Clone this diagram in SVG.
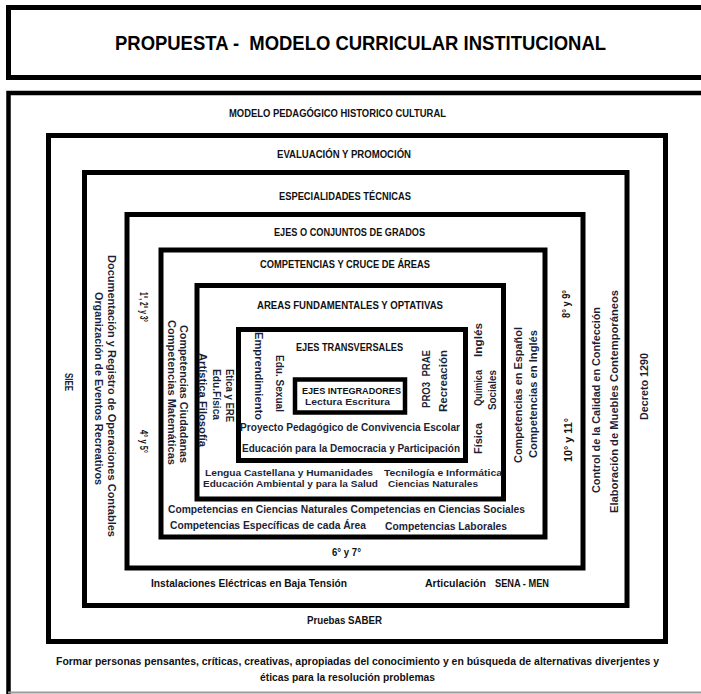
<svg xmlns="http://www.w3.org/2000/svg" width="701" height="694" viewBox="0 0 701 694">
<style>
.bx{fill:none;stroke:#000;stroke-width:5}
.hd{font-family:"Liberation Sans",Arial,sans-serif;font-weight:bold;font-size:10.5px;fill:#111}
.tx{font-family:"Liberation Sans",Arial,sans-serif;font-weight:bold;font-size:10.5px;fill:#1c1f38}
.sm{font-size:9.5px}
.ttl{font-family:"Liberation Sans",Arial,sans-serif;font-weight:bold;font-size:20px;fill:#000}
</style>
<rect width="701" height="694" fill="#fff"/>

<g id="title">
  <path class="bx" d="M705,7.5 H8.5 V77.5 H705"/>
  <text class="ttl" x="115" y="50" textLength="491" lengthAdjust="spacingAndGlyphs" xml:space="preserve">PROPUESTA -  MODELO CURRICULAR INSTITUCIONAL</text>
</g>

<g id="modelo-pedagogico">
  <path d="M8.5,694 V93 H705" fill="none" stroke="#000" stroke-width="4.5"/>
  <line x1="8" y1="692.5" x2="701" y2="692.5" stroke="#9a9a9a" stroke-width="2"/>
  <text class="hd" x="229" y="117" textLength="217" lengthAdjust="spacingAndGlyphs">MODELO PEDAGÓGICO HISTORICO CULTURAL</text>
  <text class="hd" x="56" y="665" textLength="603" lengthAdjust="spacingAndGlyphs">Formar personas pensantes, críticas, creativas, apropiadas del conocimiento  y en búsqueda de alternativas  diverjentes y</text>
  <text class="hd" x="260" y="681" textLength="175" lengthAdjust="spacingAndGlyphs">éticas para la resolución problemas</text>
</g>

<g id="evaluacion">
  <rect class="bx" x="48.5" y="135.5" width="617" height="506"/>
  <text class="hd" x="277" y="158" textLength="134" lengthAdjust="spacingAndGlyphs">EVALUACIÓN Y PROMOCIÓN</text>
  <text class="hd" x="307" y="624" textLength="75" lengthAdjust="spacingAndGlyphs">Pruebas SABER</text>
  <text class="tx" transform="translate(65,373) rotate(90)" textLength="18" lengthAdjust="spacingAndGlyphs">SIEE</text>
  <text class="tx" transform="translate(648,420) rotate(-90)" textLength="67" lengthAdjust="spacingAndGlyphs">Decreto 1290</text>
</g>

<g id="especialidades">
  <rect class="bx" x="84.5" y="172.5" width="542.5" height="433"/>
  <text class="hd" x="279" y="200" textLength="132" lengthAdjust="spacingAndGlyphs">ESPECIALIDADES TÉCNICAS</text>
  <text class="hd" x="151" y="587" textLength="196" lengthAdjust="spacingAndGlyphs">Instalaciones Eléctricas en Baja Tensión</text>
  <text class="hd" x="425" y="587" textLength="61" lengthAdjust="spacingAndGlyphs">Articulación</text>
  <text class="hd" x="495" y="587" textLength="54" lengthAdjust="spacingAndGlyphs">SENA - MEN</text>
  <text class="tx" transform="translate(108,255) rotate(90)" textLength="282" lengthAdjust="spacingAndGlyphs">Documentación y Registro de Operaciones Contables</text>
  <text class="tx" transform="translate(95,292) rotate(90)" textLength="193" lengthAdjust="spacingAndGlyphs">Organización de Eventos Recreativos</text>
  <text class="tx" transform="translate(600,493) rotate(-90)" textLength="186" lengthAdjust="spacingAndGlyphs">Control de la Calidad en Confección</text>
  <text class="tx" transform="translate(618,513) rotate(-90)" textLength="223" lengthAdjust="spacingAndGlyphs">Elaboración de Muebles Contemporáneos</text>
</g>

<g id="ejes-grados">
  <rect class="bx" x="127" y="214.5" width="456" height="353.5"/>
  <text class="hd" x="274" y="236" textLength="151" lengthAdjust="spacingAndGlyphs">EJES O CONJUNTOS DE GRADOS</text>
  <text class="hd" x="332" y="556" textLength="29" lengthAdjust="spacingAndGlyphs">6° y 7°</text>
  <text class="hd" transform="translate(140,292) rotate(90)" textLength="30" lengthAdjust="spacingAndGlyphs">1°, 2° y 3°</text>
  <text class="hd" transform="translate(140,430) rotate(90)" textLength="23" lengthAdjust="spacingAndGlyphs">4° y 5°</text>
  <text class="hd" transform="translate(570,318) rotate(-90)" textLength="28" lengthAdjust="spacingAndGlyphs">8° y 9°</text>
  <text class="hd" transform="translate(572,462) rotate(-90)" textLength="44" lengthAdjust="spacingAndGlyphs">10° y 11°</text>
</g>

<g id="competencias">
  <rect class="bx" x="161" y="250" width="384" height="287"/>
  <text class="hd" x="260" y="268" textLength="170" lengthAdjust="spacingAndGlyphs">COMPETENCIAS Y CRUCE DE ÁREAS</text>
  <text class="tx" x="168" y="513" textLength="357" lengthAdjust="spacingAndGlyphs">Competencias en Ciencias Naturales Competencias en Ciencias Sociales</text>
  <text class="tx" x="170" y="529" textLength="196" lengthAdjust="spacingAndGlyphs">Competencias Específicas de cada Área</text>
  <text class="tx" x="385" y="530" textLength="122" lengthAdjust="spacingAndGlyphs">Competencias Laborales</text>
  <text class="tx" transform="translate(180,325) rotate(90)" textLength="138" lengthAdjust="spacingAndGlyphs">Competencias Ciudadanas</text>
  <text class="tx" transform="translate(168,320) rotate(90)" textLength="145" lengthAdjust="spacingAndGlyphs">Competencias Matemáticas</text>
  <text class="tx" transform="translate(522,463) rotate(-90)" textLength="136" lengthAdjust="spacingAndGlyphs">Competencias en Español</text>
  <text class="tx" transform="translate(537,458) rotate(-90)" textLength="128" lengthAdjust="spacingAndGlyphs">Competencias en Inglés</text>
</g>

<g id="areas">
  <rect class="bx" x="197" y="285.5" width="306.5" height="213.5"/>
  <text class="hd" x="257" y="309" textLength="186" lengthAdjust="spacingAndGlyphs">AREAS FUNDAMENTALES Y OPTATIVAS</text>
  <text class="tx sm" x="205" y="475.5" textLength="168" lengthAdjust="spacingAndGlyphs">Lengua Castellana y Humanidades</text>
  <text class="tx sm" x="203" y="486.5" textLength="175" lengthAdjust="spacingAndGlyphs">Educación Ambiental y para la Salud</text>
  <text class="tx sm" x="384" y="475.5" textLength="118" lengthAdjust="spacingAndGlyphs">Tecnilogía e Informática</text>
  <text class="tx sm" x="388" y="486.5" textLength="90" lengthAdjust="spacingAndGlyphs">Ciencias Naturales</text>
  <text class="tx" transform="translate(199,353) rotate(90)" textLength="94" lengthAdjust="spacingAndGlyphs">Artística Filosofía</text>
  <text class="tx" transform="translate(213,369) rotate(90)" textLength="51" lengthAdjust="spacingAndGlyphs">Edu.Física</text>
  <text class="tx" transform="translate(226,369) rotate(90)" textLength="53" lengthAdjust="spacingAndGlyphs">Etica y ERE</text>
  <text class="tx" transform="translate(482,357) rotate(-90)" textLength="34" lengthAdjust="spacingAndGlyphs">Inglés</text>
  <text class="tx" transform="translate(482,406) rotate(-90)" textLength="36" lengthAdjust="spacingAndGlyphs">Química</text>
  <text class="tx" transform="translate(496,410) rotate(-90)" textLength="40" lengthAdjust="spacingAndGlyphs">Sociales</text>
  <text class="tx" transform="translate(482,454) rotate(-90)" textLength="31" lengthAdjust="spacingAndGlyphs">Física</text>
</g>

<g id="ejes-transversales">
  <rect class="bx" x="238.5" y="329.5" width="227" height="131"/>
  <text class="hd" x="296" y="351" textLength="107" lengthAdjust="spacingAndGlyphs">EJES TRANSVERSALES</text>
  <text class="tx" x="240" y="431" textLength="220" lengthAdjust="spacingAndGlyphs">Proyecto Pedagógico de Convivencia Escolar</text>
  <text class="tx" x="242" y="452" textLength="218" lengthAdjust="spacingAndGlyphs">Educación para la Democracia y Participación</text>
  <text class="tx" transform="translate(255,332) rotate(90)" textLength="88" lengthAdjust="spacingAndGlyphs">Emprendimiento</text>
  <text class="tx" transform="translate(276,355) rotate(90)" textLength="57" lengthAdjust="spacingAndGlyphs">Edu. Sexual</text>
  <text class="tx" transform="translate(430,408) rotate(-90)" textLength="58" lengthAdjust="spacingAndGlyphs" xml:space="preserve">PRO3  PRAE</text>
  <text class="tx" transform="translate(447,412) rotate(-90)" textLength="62" lengthAdjust="spacingAndGlyphs">Recreación</text>
</g>

<g id="ejes-integradores">
  <rect x="295" y="379.5" width="110" height="33" fill="none" stroke="#000" stroke-width="4.5"/>
  <text class="hd sm" x="302" y="393.5" textLength="99" lengthAdjust="spacingAndGlyphs">EJES INTEGRADORES</text>
  <text class="tx sm" x="305" y="405" textLength="85" lengthAdjust="spacingAndGlyphs">Lectura Escritura</text>
</g>
</svg>
